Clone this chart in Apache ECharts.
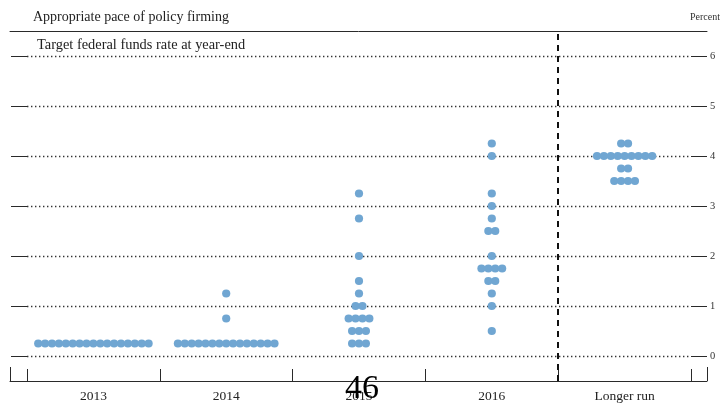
<!DOCTYPE html>
<html>
<head>
<meta charset="utf-8">
<script src="https://cdn.jsdelivr.net/npm/echarts@6/dist/echarts.min.js"></script>
<style>
html,body{margin:0;padding:0;background:#fff;}
#chart{width:723px;height:403px;}
</style>
</head>
<body>
<div id="chart"></div>
<script>
const categories = ['2013', '2014', '2015', '2016', 'Longer run'];
const dots2013 = [0.25,0.25,0.25,0.25,0.25,0.25,0.25,0.25,0.25,0.25,0.25,0.25,0.25,0.25,0.25,0.25,0.25];
const dots2014 = [0.25,0.25,0.25,0.25,0.25,0.25,0.25,0.25,0.25,0.25,0.25,0.25,0.25,0.25,0.25,0.75,1.25];
const dots2015 = [0.25,0.25,0.25,0.5,0.5,0.5,0.75,0.75,0.75,0.75,1.0,1.0,1.25,1.5,2.0,2.75,3.25];
const dots2016 = [0.5,1.0,1.25,1.5,1.5,1.75,1.75,1.75,1.75,2.0,2.5,2.5,2.75,3.0,3.25,4.0,4.25];
const dotsLonger = [3.5,3.5,3.5,3.5,3.75,3.75,4.0,4.0,4.0,4.0,4.0,4.0,4.0,4.0,4.0,4.25,4.25];
const yTicks = [0, 1, 2, 3, 4, 5, 6];

const groups = [dots2013, dots2014, dots2015, dots2016, dotsLonger];
const DOT_STEP = 6.9;
const points = [];
groups.forEach(function (vals, ci) {
  const counts = {};
  vals.forEach(function (v) { counts[v] = (counts[v] || 0) + 1; });
  const seen = {};
  vals.forEach(function (v) {
    const k = seen[v] || 0;
    seen[v] = k + 1;
    const n = counts[v];
    points.push({ value: [categories[ci], v], symbolOffset: [(k - (n - 1) / 2) * DOT_STEP, 0] });
  });
});
// boundary between projections and the longer-run column (left edge of 'Longer run')
const dividerAt = categories.indexOf('Longer run');

const serif = '"Liberation Serif", "DejaVu Serif", serif';
const ink = '#2a2a2a';

const chart = echarts.init(document.getElementById('chart'), null, { renderer: 'canvas' });
chart.setOption({
  animation: false,
  backgroundColor: '#ffffff',
  title: [
    { text: 'Appropriate pace of policy firming', left: 33, top: 10, padding: 0,
      textStyle: { fontFamily: serif, fontSize: 14, fontWeight: 'normal', color: '#222' } },
    { text: 'Target federal funds rate at year-end', left: 37, top: 38, padding: 0,
      textStyle: { fontFamily: serif, fontSize: 14.4, fontWeight: 'normal', color: '#222' } },
    { text: 'Percent', left: 690, top: 12, padding: 0,
      textStyle: { fontFamily: serif, fontSize: 10, fontWeight: 'normal', color: '#333' } },
    { text: '46', left: 345, top: 372, padding: 0, z: 20,
      textStyle: { fontFamily: serif, fontSize: 34, fontWeight: 'normal', color: '#000' } }
  ],
  grid: [
    { left: 27, right: 32, top: 31, bottom: 22, containLabel: false },
    { left: 10, right: 16, top: 31, bottom: 22, containLabel: false }
  ],
  xAxis: [
    {
      type: 'category', gridIndex: 0, data: categories, boundaryGap: true, position: 'bottom',
      axisLine: { show: true, onZero: false, lineStyle: { color: ink, width: 1 } },
      axisTick: { show: true, inside: true, length: 12, lineStyle: { color: ink, width: 1 } },
      axisLabel: { margin: 8, fontFamily: serif, fontSize: 13.5, color: '#222' },
      splitLine: { show: false }
    },
    {
      type: 'value', gridIndex: 1, min: 0, max: 1, interval: 1, position: 'bottom',
      axisLine: { show: true, onZero: false, lineStyle: { color: ink, width: 1 } },
      axisTick: { show: true, inside: true, length: 14, lineStyle: { color: ink, width: 1 } },
      axisLabel: { show: false }, splitLine: { show: false }
    },
    {
      type: 'value', gridIndex: 1, min: 0, max: 1, interval: 1, position: 'top',
      axisLine: { show: true, onZero: false, lineStyle: { color: ink, width: 1 } },
      axisTick: { show: false }, axisLabel: { show: false }, splitLine: { show: false }
    },
    {
      type: 'value', gridIndex: 0, min: 0, max: categories.length, show: false,
      axisLine: { onZero: false }
    }
  ],
  yAxis: [
    {
      type: 'value', gridIndex: 0, min: -0.5, max: 6.5, position: 'right',
      axisLine: { show: false, onZero: false },
      axisTick: { show: true, inside: false, length: 16, customValues: yTicks, lineStyle: { color: ink, width: 1 } },
      axisLabel: { show: true, customValues: yTicks, margin: 19, fontFamily: serif, fontSize: 10.5, color: '#333' },
      splitLine: { show: true, lineStyle: { color: '#333', width: 1.4, type: [1.4, 2.6] } }
    },
    {
      type: 'value', gridIndex: 0, min: -0.5, max: 6.5, position: 'left',
      axisLine: { show: false, onZero: false },
      axisTick: { show: true, inside: false, length: 16, customValues: yTicks, lineStyle: { color: ink, width: 1 } },
      axisLabel: { show: false },
      splitLine: { show: false }
    },
    { type: 'value', gridIndex: 1, show: false, min: 0, max: 1, axisLine: { onZero: false } }
  ],
  series: [
    {
      type: 'scatter', xAxisIndex: 0, yAxisIndex: 0, data: points,
      symbol: 'circle', symbolSize: 8.2,
      itemStyle: { color: '#70a6d2', opacity: 1 },
      z: 5
    },
    {
      type: 'line', xAxisIndex: 3, yAxisIndex: 0, data: [],
      markLine: {
        silent: true, symbol: 'none', label: { show: false },
        lineStyle: { color: '#111', width: 2, type: [6, 5] },
        data: [{ xAxis: dividerAt }]
      },
      z: 4
    }
  ]
});
</script>
</body>
</html>
